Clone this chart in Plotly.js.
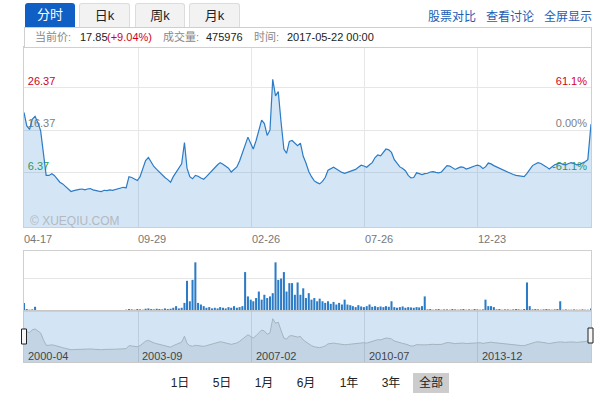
<!DOCTYPE html>
<html>
<head>
<meta charset="utf-8">
<script src="https://cdn.plot.ly/plotly-3.0.1.min.js"></script>
<style>
  html, body { margin:0; padding:0; background:#fff; }
  body { width:612px; height:396px; overflow:hidden; position:relative;
         font-family:"Liberation Sans","Noto Sans CJK SC",Arial,sans-serif; }
  #chart { position:absolute; left:0; top:0; width:612px; height:396px; }
  .tab { position:absolute; top:3px; height:24px; line-height:24px; text-align:center; font-size:13px;
         box-sizing:border-box; border-radius:3px 3px 0 0; z-index:5; }
  .tab.on { background:#0f5fc4; color:#fff; }
  .tab.off { background:#f2f2f2; color:#222; border:1px solid #dcdcdc; border-bottom:none; }
  .lnk { position:absolute; top:7px; font-size:12px; color:#1b5db3; z-index:5; }
  #info { position:absolute; left:24px; top:27px; width:568px; height:21px; box-sizing:border-box;
          border:1px solid #cfcfcf; z-index:5; font-size:11px; line-height:19px; background:#fff; }
  #info span { position:absolute; top:0; white-space:nowrap; }
  #info .k { color:#888; }
  #info .v { color:#222; }
  #info .r { color:#d0021b; }
  .btn { position:absolute; top:373px; height:20px; line-height:20px; font-size:12px; color:#222; text-align:center; z-index:5; }
  .btn.sel { background:#cccccc; }
</style>
</head>
<body>
<div id="chart"></div>

<div class="tab on" style="left:25px;width:50px;">分时</div>
<div class="tab off" style="left:79px;width:51px;">日k</div>
<div class="tab off" style="left:135px;width:50px;">周k</div>
<div class="tab off" style="left:189px;width:51px;">月k</div>

<div class="lnk" style="left:428px;">股票对比</div>
<div class="lnk" style="left:486px;">查看讨论</div>
<div class="lnk" style="left:544px;">全屏显示</div>

<div id="info">
  <span class="k" style="left:10px;">当前价:</span>
  <span class="v" style="left:55px;">17.85</span>
  <span class="r" style="left:82px;">(+9.04%)</span>
  <span class="k" style="left:138px;">成交量:</span>
  <span class="v" style="left:181px;">475976</span>
  <span class="k" style="left:229px;">时间:</span>
  <span class="v" style="left:262px;">2017-05-22 00:00</span>
</div>

<div class="btn" style="left:170px;width:20px;">1日</div>
<div class="btn" style="left:212px;width:20px;">5日</div>
<div class="btn" style="left:254px;width:20px;">1月</div>
<div class="btn" style="left:296px;width:20px;">6月</div>
<div class="btn" style="left:339px;width:20px;">1年</div>
<div class="btn" style="left:381px;width:20px;">3年</div>
<div class="btn sel" style="left:413px;width:36px;">全部</div>

<script>
// ---------- data ----------
const priceMonths = [
  '2000-04','2000-05','2000-06','2000-07','2000-08','2000-09','2000-10','2000-11','2000-12',
  '2001-01','2001-02','2001-03','2001-04','2001-05','2001-06','2001-07','2001-08','2001-09','2001-10','2001-11','2001-12',
  '2002-01','2002-02','2002-03','2002-04','2002-05','2002-06','2002-07','2002-08','2002-09','2002-10','2002-11','2002-12',
  '2003-01','2003-02','2003-03','2003-04','2003-05','2003-06','2003-07','2003-08','2003-09','2003-10','2003-11','2003-12',
  '2004-01','2004-02','2004-03','2004-04','2004-05','2004-06','2004-07','2004-08','2004-09','2004-10','2004-11','2004-12',
  '2005-01','2005-02','2005-03','2005-04','2005-05','2005-06','2005-07','2005-08','2005-09','2005-10','2005-11','2005-12',
  '2006-01','2006-02','2006-03','2006-04','2006-05','2006-06','2006-07','2006-08','2006-09','2006-10','2006-11','2006-12',
  '2007-01','2007-02','2007-03','2007-04','2007-05','2007-06','2007-07','2007-08','2007-09','2007-10','2007-11','2007-12',
  '2008-01','2008-02','2008-03','2008-04','2008-05','2008-06','2008-07','2008-08','2008-09','2008-10','2008-11','2008-12',
  '2009-01','2009-02','2009-03','2009-04','2009-05','2009-06','2009-07','2009-08','2009-09','2009-10','2009-11','2009-12',
  '2010-01','2010-02','2010-03','2010-04','2010-05','2010-06','2010-07','2010-08','2010-09','2010-10','2010-11','2010-12',
  '2011-01','2011-02','2011-03','2011-04','2011-05','2011-06','2011-07','2011-08','2011-09','2011-10','2011-11','2011-12',
  '2012-01','2012-02','2012-03','2012-04','2012-05','2012-06','2012-07','2012-08','2012-09','2012-10','2012-11','2012-12',
  '2013-01','2013-02','2013-03','2013-04','2013-05','2013-06','2013-07','2013-08','2013-09','2013-10','2013-11','2013-12',
  '2014-01','2014-02','2014-03','2014-04','2014-05','2014-06','2014-07','2014-08','2014-09','2014-10','2014-11','2014-12',
  '2015-01','2015-02','2015-03','2015-04','2015-05','2015-06','2015-07','2015-08','2015-09','2015-10','2015-11','2015-12',
  '2016-01','2016-02','2016-03','2016-04','2016-05','2016-06','2016-07','2016-08','2016-09','2016-10','2016-11','2016-12',
  '2017-01','2017-02','2017-03','2017-04'
];
const lastDate = '2017-05-22';

const prices = [
  20.6,17.5,16.6,19.0,19.7,18.2,16.3,10.5,5.8,
  5.8,6.2,5.8,4.9,4.2,3.8,3.2,2.6,2.0,2.2,2.4,2.5,
  2.6,2.4,2.6,2.7,2.4,2.2,2.1,2.0,2.3,2.2,2.4,2.3,
  2.5,2.6,2.7,3.0,2.9,5.5,5.3,5.0,4.6,5.5,7.5,9.3,
  10.0,8.8,7.9,7.2,6.5,5.8,5.3,4.8,4.2,5.5,6.5,7.5,
  8.5,13.5,7.5,5.5,5.0,5.8,5.6,5.2,4.9,5.5,6.3,7.0,
  7.6,8.3,8.8,8.4,8.0,7.5,6.6,7.2,7.8,9.2,11.0,13.0,
  14.8,13.3,12.0,14.0,16.5,18.8,18.0,15.2,16.5,28.4,24.5,25.5,
  18.3,12.0,11.0,13.8,14.0,13.3,12.8,13.4,10.3,8.7,6.7,5.5,
  4.5,4.1,3.8,4.4,5.3,7.0,7.4,7.7,7.3,6.8,6.5,6.3,
  6.5,6.8,7.0,7.2,7.7,8.2,8.0,7.7,8.3,8.8,10.0,10.6,
  10.4,11.2,12.0,11.8,11.2,9.5,8.6,7.8,7.4,6.9,5.8,5.2,
  5.3,6.4,6.2,6.0,6.2,6.3,6.6,6.7,6.5,6.4,6.6,7.3,
  8.1,8.0,7.6,7.2,7.5,7.8,7.7,7.3,7.5,7.8,8.0,8.2,
  8.0,7.4,7.8,8.7,8.5,8.1,7.8,7.5,7.2,6.9,6.5,6.2,
  6.0,5.8,5.7,5.6,5.5,6.3,7.2,8.1,8.5,8.8,8.6,8.3,
  7.8,7.3,7.8,8.3,8.5,8.7,8.4,8.3,8.6,8.8,8.6,8.3,
  8.4,8.7,9.0,9.5
];
const lastPrice = 17.85;

// relative volume (one bar per month)
const volumes = [
  0.25,0.06,0.04,0.05,0.13,0.03,0.03,0.02,0.03,
  0.03,0.02,0.02,0.03,0.02,0.02,0.03,0.02,0.02,0.03,0.02,0.02,
  0.02,0.03,0.02,0.02,0.03,0.02,0.02,0.03,0.02,0.02,0.03,0.02,
  0.02,0.03,0.02,0.03,0.04,0.06,0.05,0.04,0.06,0.05,0.04,0.07,
  0.08,0.06,0.05,0.07,0.06,0.05,0.08,0.06,0.07,0.10,0.15,0.08,
  0.10,0.25,0.93,0.30,0.96,1.50,0.25,0.20,0.15,0.10,0.12,0.08,
  0.10,0.08,0.12,0.10,0.08,0.12,0.10,0.15,0.10,0.12,0.15,1.20,
  0.45,0.35,0.30,0.40,0.60,0.35,0.50,0.40,0.45,0.55,1.50,0.96,
  1.00,1.20,0.60,0.86,0.86,0.50,0.88,0.50,0.70,0.40,0.55,0.35,
  0.40,0.30,0.38,0.30,0.25,0.30,0.22,0.28,0.20,0.25,0.20,0.35,
  0.20,0.18,0.15,0.12,0.18,0.14,0.12,0.15,0.20,0.13,0.15,0.12,
  0.14,0.12,0.15,0.13,0.30,0.12,0.10,0.12,0.14,0.10,0.12,0.11,
  0.10,0.12,0.11,0.15,0.45,0.05,0.06,0.04,0.05,0.06,0.04,0.05,
  0.05,0.04,0.06,0.05,0.04,0.05,0.06,0.04,0.05,0.04,0.06,0.05,
  0.04,0.05,0.35,0.15,0.15,0.12,0.05,0.06,0.04,0.05,0.05,0.04,
  0.05,0.06,0.05,0.04,0.06,0.88,0.15,0.05,0.06,0.05,0.04,0.05,
  0.06,0.05,0.04,0.05,0.06,0.30,0.04,0.05,0.04,0.04,0.05,0.04,
  0.04,0.05,0.04,0.04
];
const lastVolume = 0.08;

const tickDates = ['2000-04-17','2003-09-29','2007-02-26','2010-07-26','2013-12-23'];
const mainTickText = ['04-17','09-29','02-26','07-26','12-23'];
const navTickText = ['2000-04','2003-09','2007-02','2010-07','2013-12'];
const priceLevels = [6.37, 16.37, 26.37];
const priceLevelText = ['6.37', '16.37', '26.37'];
const pctLevelText = ['-61.1%', '0.00%', '61.1%'];
const levelColors = ['#2e9e3e', '#808080', '#d0021b'];

// ---------- build ----------
const xDates = priceMonths.map(m => m + '-17').concat([lastDate]);
const yPrice = prices.concat([lastPrice]);
const yVol = volumes.concat([lastVolume]);
const xRange = ['2000-04-17', lastDate];
const mainRange = [-6.34, 36.0];
const navRange = [-8.4, 35.0];
const W = 612, H = 396;
const px = v => v / W, py = v => 1 - v / H;
const xDom = [px(24), px(591)];

const traces = [
  { x: [xDates[0], lastDate], y: [mainRange[0], mainRange[0]], xaxis:'x', yaxis:'y',
    mode:'lines', line:{width:0}, hoverinfo:'skip', showlegend:false },
  { x: xDates, y: yPrice, xaxis:'x', yaxis:'y', mode:'lines',
    line:{color:'#2b7bc6', width:1.2}, fill:'tonexty', fillcolor:'rgba(40,130,210,0.2)', showlegend:false },
  { x: xDates, y: yVol, xaxis:'x2', yaxis:'y2', type:'bar',
    marker:{color:'#2b7bc6', line:{width:0}}, showlegend:false },
  { x: [xDates[0], lastDate], y: [navRange[0], navRange[0]], xaxis:'x3', yaxis:'y3',
    mode:'lines', line:{width:0}, hoverinfo:'skip', showlegend:false },
  { x: xDates, y: yPrice, xaxis:'x3', yaxis:'y3', mode:'lines',
    line:{color:'#a6b3bf', width:1}, fill:'tonexty', fillcolor:'rgba(110,130,150,0.16)', showlegend:false },
  { x: xDates, y: yPrice, xaxis:'x', yaxis:'y4', mode:'lines', line:{width:0}, opacity:0,
    hoverinfo:'skip', showlegend:false }
];

const colorText = (t, i) => '<span style="color:' + levelColors[i] + '">' + t + '</span>';

const annotations = [
  { text:'© XUEQIU.COM', xref:'paper', yref:'paper', x:px(28), y:py(221), xanchor:'left', yanchor:'middle',
    showarrow:false, font:{size:12, color:'#b3b9bf'} }
];
tickDates.forEach((d, i) => {
  annotations.push({ text: mainTickText[i], xref:'x', yref:'paper', x:d, y:py(239),
    xanchor:'left', yanchor:'middle', xshift:-2, showarrow:false, font:{size:11, color:'#777'} });
  annotations.push({ text: navTickText[i], xref:'x3', yref:'paper', x:d, y:py(356),
    xanchor:'left', yanchor:'middle', xshift:2, showarrow:false, font:{size:11, color:'#444'} });
});

const layout = {
  width: W, height: H, margin:{l:0,r:0,t:0,b:0},
  paper_bgcolor:'rgba(0,0,0,0)', plot_bgcolor:'rgba(0,0,0,0)',
  font:{family:'Liberation Sans, Arial, sans-serif', size:11, color:'#777'},
  showlegend:false, bargap:0.2,
  xaxis:{ domain:xDom, anchor:'y', type:'date', range:xRange,
    tickmode:'array', tickvals:tickDates, showticklabels:false, ticks:'',
    showgrid:true, gridcolor:'#e7e7e7', showline:true, linecolor:'#cfcfcf', mirror:true, zeroline:false },
  yaxis:{ domain:[py(227), py(47)], anchor:'x', range:mainRange,
    tickmode:'array', tickvals:priceLevels, ticktext:priceLevelText.map(colorText),
    ticklabelposition:'inside', ticklabelshift:-7, ticklabelstandoff:3, tickfont:{size:11},
    showgrid:true, gridcolor:'#e6e6e6', zeroline:false, showline:true, linecolor:'#cfcfcf', mirror:true,
    layer:'below traces', ticks:'' },
  yaxis4:{ overlaying:'y', side:'right', anchor:'x', range:mainRange,
    tickmode:'array', tickvals:priceLevels, ticktext:pctLevelText.map(colorText),
    ticklabelposition:'inside', ticklabelshift:-7, ticklabelstandoff:1, tickfont:{size:11},
    showgrid:false, zeroline:false, showline:false, layer:'below traces', ticks:'' },
  xaxis2:{ domain:xDom, anchor:'y2', type:'date', range:xRange, showticklabels:false, ticks:'',
    showgrid:false, showline:true, linecolor:'#cfcfcf', mirror:true, zeroline:false },
  yaxis2:{ domain:[py(311), py(251)], anchor:'x2', range:[0, 1.85], tickmode:'array', tickvals:[1.0],
    showticklabels:false, ticks:'', showgrid:true, gridcolor:'#e6e6e6', zeroline:false,
    showline:true, linecolor:'#cfcfcf', mirror:true },
  xaxis3:{ domain:xDom, anchor:'y3', type:'date', range:xRange,
    tickmode:'array', tickvals:tickDates, showticklabels:false, ticks:'',
    showgrid:true, gridcolor:'rgba(160,176,192,0.45)', showline:true, linecolor:'#c8c8c8', mirror:true, zeroline:false },
  yaxis3:{ domain:[py(362), py(311)], anchor:'x3', range:navRange, showticklabels:false, ticks:'',
    showgrid:false, zeroline:false, showline:true, linecolor:'#c8c8c8', mirror:true },
  shapes:[
    { type:'rect', xref:'x3 domain', yref:'y3 domain', x0:0, x1:1, y0:0, y1:1,
      fillcolor:'#d3e5f5', line:{width:0}, layer:'below' },
    { type:'rect', xref:'paper', yref:'paper', x0:px(21.5), x1:px(26.5), y0:py(344), y1:py(329),
      fillcolor:'#f6f6f6', line:{color:'#222', width:1} },
    { type:'rect', xref:'paper', yref:'paper', x0:px(588), x1:px(593), y0:py(343), y1:py(328),
      fillcolor:'#f6f6f6', line:{color:'#222', width:1} }
  ],
  annotations: annotations
};

Plotly.newPlot('chart', traces, layout, {staticPlot:true, displayModeBar:false});
</script>
</body>
</html>
